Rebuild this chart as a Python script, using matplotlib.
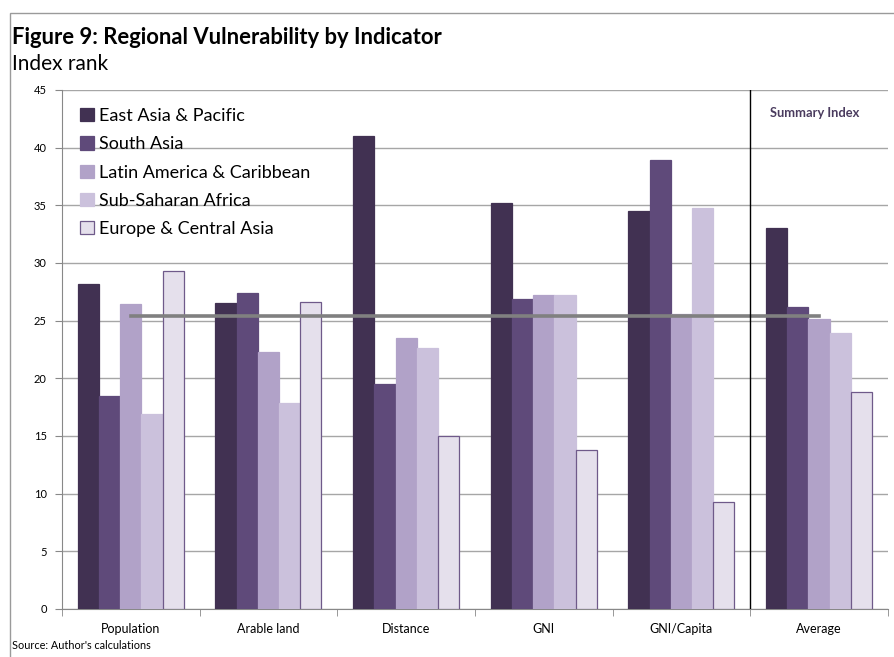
import numpy as np
import matplotlib
matplotlib.use("Agg")
import matplotlib.pyplot as plt
from matplotlib.patches import Rectangle

# Chart data
indicators = ["Population", "Arable land", "Distance", "GNI", "GNI/Capita", "Average"]
regions = ["East Asia & Pacific", "South Asia", "Latin America & Caribbean",
           "Sub-Saharan Africa", "Europe & Central Asia"]
east_asia = [28.2, 26.5, 41.0, 35.2, 34.5, 33.0]
south_asia = [18.5, 27.4, 19.5, 26.9, 38.9, 26.2]
latin_america = [26.4, 22.3, 23.5, 27.2, 25.6, 25.1]
sub_saharan = [16.9, 17.9, 22.6, 27.2, 34.8, 23.9]
europe_central = [29.3, 26.6, 15.0, 13.8, 9.3, 18.8]
overall_avg = [25.4, 25.4, 25.4, 25.4, 25.4, 25.4]

colors = ["#413152", "#5f4a7a", "#b1a2c8", "#cbc1dc", "#e5e0ec"]
edges = ["#413152", "#5f4a7a", "#b1a2c8", "#cbc1dc", "#6f5a8a"]

plt.rcParams['font.family'] = ['Lato', 'DejaVu Sans']

fig = plt.figure(figsize=(8.95, 6.57), dpi=100)
ax = fig.add_axes([0.0693, 0.0731, 0.9227, 0.790])

series = [east_asia, south_asia, latin_america, sub_saharan, europe_central]
x = np.arange(len(indicators))
bw = 0.154
for i, vals in enumerate(series):
    ax.bar(x + (i - 2) * bw, vals, width=bw, color=colors[i],
           edgecolor=edges[i], linewidth=0.9, label=regions[i], zorder=3)

# overall average line and summary separator
ax.plot(x, overall_avg, color="#808080", linewidth=2.6, zorder=4)
ax.axvline(4.5, color="black", linewidth=1.0, zorder=5)

ax.set_xlim(-0.5, len(indicators) - 0.5)
ax.set_ylim(0, 45)
ax.set_yticks(np.arange(0, 46, 5))
ax.yaxis.grid(True, color="#a6a6a6", linewidth=1.0, zorder=0)
ax.set_xticks(x)
ax.set_xticklabels(indicators, fontsize=9)
ax.set_xticks(np.arange(-0.5, len(indicators), 1), minor=True)
ax.tick_params(axis="x", which="major", length=0, pad=10)
ax.tick_params(axis="x", which="minor", length=5, color="#888888", direction="out")
ax.tick_params(axis="y", labelsize=8, length=5, color="#888888", pad=6)
for s in ["top", "right"]:
    ax.spines[s].set_visible(False)
for s in ["left", "bottom"]:
    ax.spines[s].set_color("#888888")

ax.text(4.97, 43.0, "Summary Index", fontsize=9.3, fontweight="bold",
        color="#4a3b5e", ha="center", va="center")

leg = ax.legend(loc="upper left", bbox_to_anchor=(0.0, 1.0), frameon=False,
                fontsize=13, handlelength=0.75, handleheight=0.75,
                handletextpad=0.3, labelspacing=0.68, borderaxespad=0.6)

fig.text(0.0135, 0.943, "Figure 9: Regional Vulnerability by Indicator",
         fontsize=15.8, fontweight="bold", va="center")
fig.text(0.0135, 0.902, "Index rank", fontsize=15, va="center")
fig.text(0.0135, 0.017, "Source: Author's calculations", fontsize=7.8, va="center")

fig.patches.append(Rectangle((10 / 895, -0.05), 1.0, 1.05 - 13 / 657,
                             transform=fig.transFigure, fill=False,
                             edgecolor="#9a9a9a", linewidth=1.0))

fig.savefig("out.png", dpi=100)
